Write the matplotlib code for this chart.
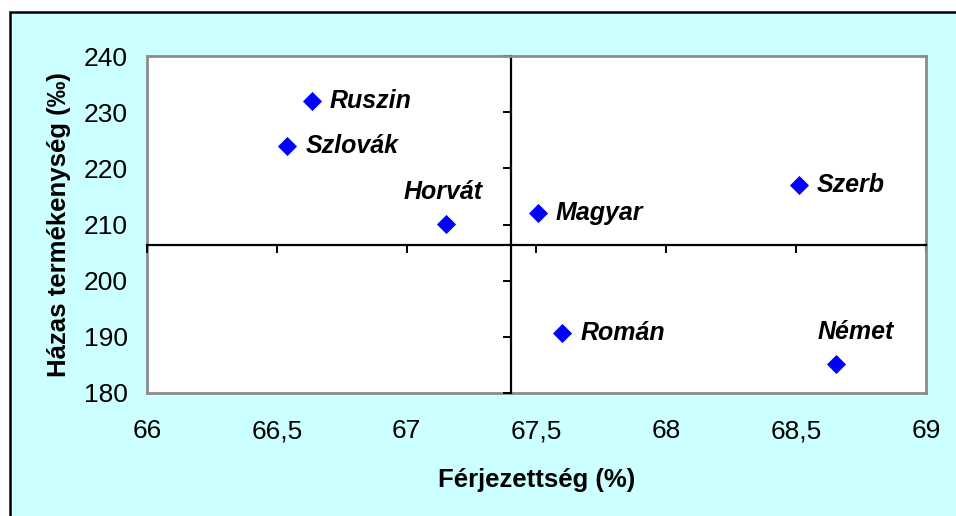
import matplotlib
matplotlib.use("Agg")
import matplotlib.pyplot as plt
from matplotlib.patches import Rectangle
from matplotlib.ticker import FuncFormatter

plt.rcParams['font.family'] = ['Liberation Sans', 'DejaVu Sans']

# adatok
nemzetiseg = ['Ruszin', 'Szlovák', 'Horvát', 'Magyar', 'Szerb', 'Román', 'Német']
ferjezettseg = [66.635, 66.54, 67.15, 67.505, 68.51, 67.6, 68.655]
termekenyseg = [231.9, 223.9, 210.1, 212.0, 217.0, 190.6, 185.2]
# cimke helye: jobbra vagy folotte
cimke_hely = ['jobb', 'jobb', 'fent', 'jobb', 'jobb', 'jobb', 'fent']

x_ticks = [66, 66.5, 67, 67.5, 68, 68.5, 69]
y_ticks = [180, 190, 200, 210, 220, 230, 240]
kereszt_x = 67.4
kereszt_y = 206.3

fig = plt.figure(figsize=(9.56, 5.16), dpi=100)
fig.patch.set_facecolor('white')
fig.patches.append(Rectangle((10/956, -0.1), 1.2, 1.1 - 12/516, transform=fig.transFigure,
                             facecolor='#CCFFFF', edgecolor='black', lw=1.8, zorder=-10))

ax = fig.add_axes([147/956, 1 - 393/516, (926-147)/956, (393-56)/516])
ax.set_facecolor('white')
ax.set_xlim(66, 69)
ax.set_ylim(180, 240)

ax.scatter(ferjezettseg, termekenyseg, marker='D', s=95, color='#0000FF', zorder=3, linewidths=0)

for nev, x, y, hely in zip(nemzetiseg, ferjezettseg, termekenyseg, cimke_hely):
    if hely == 'jobb':
        ax.annotate(nev, (x, y), xytext=(13, 0), textcoords='offset points',
                    ha='left', va='center', fontsize=18, fontweight='bold', fontstyle='italic')
    else:
        ax.annotate(nev, (x, y), xytext=(14 if x > 68 else -2, 23), textcoords='offset points',
                    ha='center', va='center', fontsize=18, fontweight='bold', fontstyle='italic')

# kereszt tengelyek
ax.spines['left'].set_position(('data', kereszt_x))
ax.spines['bottom'].set_position(('data', kereszt_y))
for s in ['left', 'bottom']:
    ax.spines[s].set_color('black')
    ax.spines[s].set_linewidth(1.6)
for s in ['top', 'right']:
    ax.spines[s].set_color('#8C8C8C')
    ax.spines[s].set_linewidth(2)
ax.set_xticks(x_ticks)
ax.set_yticks(y_ticks)
ax.tick_params(direction='out', length=6, width=1.4, color='black',
               labelbottom=False, labelleft=False)

fmt = FuncFormatter(lambda v, p: f"{v:g}".replace('.', ','))

sx = ax.secondary_xaxis('bottom')
sx.set_xticks(x_ticks)
sx.xaxis.set_major_formatter(fmt)
sx.tick_params(length=0, labelsize=19, pad=19)
sx.spines['bottom'].set_color('#8C8C8C')
sx.spines['bottom'].set_linewidth(2)
sx.set_xlabel('Férjezettség (%)', fontsize=18.5, fontweight='bold', labelpad=18)

sy = ax.secondary_yaxis('left')
sy.set_yticks(y_ticks)
sy.yaxis.set_major_formatter(fmt)
sy.tick_params(length=0, labelsize=19, pad=14)
sy.spines['left'].set_color('#8C8C8C')
sy.spines['left'].set_linewidth(2)
sy.set_ylabel('Házas termékenység (‰)', fontsize=18.5, fontweight='bold', labelpad=9)

fig.savefig('out.png', dpi=100)
